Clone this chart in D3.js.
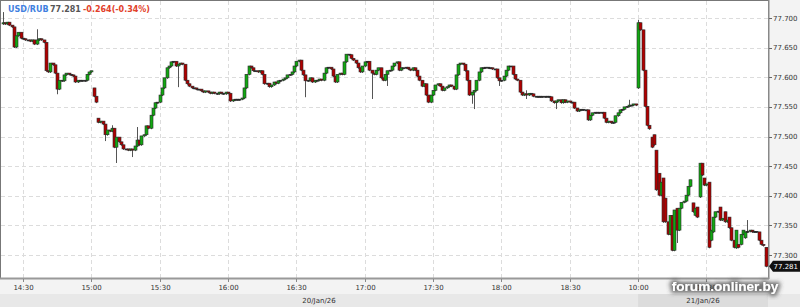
<!DOCTYPE html>
<html>
<head>
<meta charset="utf-8">
<script src="https://cdn.jsdelivr.net/npm/d3@7"></script>
<style>
  body { margin: 0; background: #fff; }
  svg { display: block; font-family: "DejaVu Sans", sans-serif; }
</style>
</head>
<body>
<svg id="chart" width="800" height="307"></svg>
<script>
// quote header
const symbol = "USD/RUB";
const lastPrice = 77.281;
const changeText = "-0.264(-0.34%)";

// 1 minute candles, 20/Jan afternoon session
const session1Start = "14:21";
const session1Close = [
  77.692, 77.690, 77.693, 77.688, 77.685, 77.651, 77.670, 77.676, 77.666, 77.665,
  77.663, 77.663, 77.661, 77.663, 77.656, 77.663, 77.665, 77.663, 77.659, 77.611,
  77.609, 77.624, 77.621, 77.607, 77.580, 77.595, 77.594, 77.604, 77.607, 77.605,
  77.604, 77.602, 77.592, 77.595, 77.595, 77.594, 77.595, 77.605, 77.609, 77.611,
  77.568, 77.558, 77.524, 77.526, 77.521, 77.503, 77.511, 77.509, 77.514, 77.482,
  77.499, 77.491, 77.486, 77.479, 77.479, 77.477, 77.479, 77.477, 77.484, 77.494,
  77.486, 77.501, 77.503, 77.518, 77.514, 77.536, 77.548, 77.557, 77.558, 77.570,
  77.582, 77.599, 77.616, 77.619, 77.626, 77.627, 77.619, 77.622, 77.624, 77.622,
  77.595, 77.589, 77.585, 77.582, 77.582, 77.580, 77.580, 77.577, 77.575, 77.577,
  77.575, 77.573, 77.575, 77.573, 77.572, 77.575, 77.573, 77.572, 77.575, 77.573,
  77.560, 77.562, 77.563, 77.562, 77.563, 77.565, 77.582, 77.605, 77.619, 77.616,
  77.611, 77.611, 77.609, 77.611, 77.605, 77.589, 77.590, 77.584, 77.587, 77.592,
  77.590, 77.594, 77.595, 77.597, 77.599, 77.604, 77.605, 77.609, 77.619, 77.627,
  77.629, 77.612, 77.604, 77.594, 77.595, 77.599, 77.592, 77.595, 77.595, 77.597,
  77.595, 77.607, 77.616, 77.617, 77.614, 77.602, 77.592, 77.605, 77.607, 77.605,
  77.626, 77.639, 77.638, 77.632, 77.629, 77.624, 77.616, 77.609, 77.619, 77.626,
  77.627, 77.612, 77.607, 77.605, 77.612, 77.616, 77.599, 77.595, 77.605, 77.611,
  77.612, 77.619, 77.624, 77.626, 77.612, 77.616, 77.616, 77.617, 77.614, 77.612,
  77.616, 77.612, 77.602, 77.595, 77.585, 77.589, 77.570, 77.558, 77.570, 77.578,
  77.587, 77.589, 77.585, 77.578, 77.582, 77.584, 77.587, 77.585, 77.580, 77.604,
  77.622, 77.624, 77.622, 77.611, 77.595, 77.570, 77.575, 77.578, 77.595, 77.609,
  77.616, 77.616, 77.617, 77.616, 77.616, 77.614, 77.614, 77.599, 77.594, 77.595,
  77.602, 77.612, 77.619, 77.619, 77.605, 77.597, 77.595, 77.575, 77.570, 77.572,
  77.570, 77.573, 77.572, 77.568, 77.568, 77.567, 77.568, 77.567, 77.568, 77.568,
  77.567, 77.560, 77.557, 77.560, 77.562, 77.557, 77.562, 77.558, 77.560, 77.558,
  77.558, 77.548, 77.543, 77.545, 77.546, 77.545, 77.545, 77.528, 77.536, 77.540,
  77.541, 77.541, 77.540, 77.541, 77.531, 77.524, 77.526, 77.523, 77.524, 77.535,
  77.540, 77.545, 77.546, 77.550, 77.551, 77.553, 77.553, 77.555, 77.553
];

// 21/Jan morning session
const session2Start = "10:00";
const session2Close = [
  77.692, 77.680, 77.612, 77.551, 77.519, 77.513, 77.482, 77.486, 77.410, 77.401,
  77.423, 77.356, 77.356, 77.335, 77.367, 77.308, 77.376, 77.342, 77.379, 77.389,
  77.391, 77.401, 77.416, 77.427, 77.373, 77.379, 77.364, 77.455, 77.435, 77.418,
  77.420, 77.313, 77.342, 77.364, 77.373, 77.374, 77.359, 77.362, 77.356, 77.359,
  77.346, 77.325, 77.313, 77.342, 77.313, 77.335, 77.342, 77.339, 77.340, 77.342,
  77.339, 77.340, 77.339, 77.325, 77.318, 77.316, 77.281
];

// candles whose open is not the previous close (candle number, open)
const openAt  = [0, 40, 42, 279, 285, 286, 287, 288, 290, 291, 296, 303, 304, 305, 306, 307, 308, 310, 311, 312, 315, 317, 319, 322, 323, 324, 326, 335];
const openVal = [77.690, 77.582, 77.531, 77.582, 77.499, 77.503, 77.477, 77.438, 77.430, 77.396, 77.379, 77.388, 77.367, 77.381, 77.398, 77.455, 77.430, 77.423, 77.325, 77.339, 77.381, 77.373, 77.364, 77.312, 77.318, 77.318, 77.329, 77.313];

// longer shadows (candle number, high, low)
const wickAt   = [0, 15, 24, 45, 48, 50, 57, 59, 77, 133, 162, 169, 206, 207, 218, 230, 243, 275, 279, 296, 327];
const wickHigh = [77.710, 77.681, null, null, 77.519, null, null, 77.516, null, null, null, null, null, null, null, 77.578, null, 77.562, 77.697, null, 77.359];
const wickLow  = [null, null, 77.573, 77.494, null, 77.457, 77.467, null, 77.585, 77.568, 77.565, 77.587, 77.557, 77.548, 77.587, 77.565, 77.548, null, null, 77.322, null];

const timeTicks = ["14:30", "15:00", "15:30", "16:00", "16:30", "17:00", "17:30", "18:00", "18:30", "10:00", "10:30"];
const priceTicks = [77.300, 77.350, 77.400, 77.450, 77.500, 77.550, 77.600, 77.650, 77.700];
const dayLabels = ["20/Jan/26", "21/Jan/26"];
const watermark = "forum.onliner.by";

// ---------------------------------------------------------------
const svg = d3.select("#chart");
const W = 800, H = 307;
const plotR = 768, plotB = 278;

function minuteLabels(start, n) {
  const [h, m] = start.split(":").map(Number);
  return d3.range(n).map(k => {
    const t = h * 60 + m + k;
    return String(Math.floor(t / 60)).padStart(2, "0") + ":" + String(t % 60).padStart(2, "0");
  });
}
const times = minuteLabels(session1Start, session1Close.length)
  .concat(minuteLabels(session2Start, session2Close.length));
const closes = session1Close.concat(session2Close);

const openMap = new Map(openAt.map((k, j) => [k, openVal[j]]));
const wickMap = new Map(wickAt.map((k, j) => [k, [wickHigh[j], wickLow[j]]]));

const candles = closes.map((c, i) => {
  const o = openMap.has(i) ? openMap.get(i) : closes[i - 1];
  const w = wickMap.get(i) || [null, null];
  return {
    t: times[i], o: o, c: c,
    h: Math.max(o, c, w[0] ?? -Infinity),
    l: Math.min(o, c, w[1] ?? Infinity)
  };
});

const x = d3.scalePoint().domain(times).range([2.5, 765.6]);
const y = d3.scaleLinear().domain([77.2612, 77.7287]).range([plotB, 1]);

// backgrounds
svg.append("rect").attr("width", W).attr("height", H).attr("fill", "#f3f3f3");
svg.append("rect").attr("x", 0).attr("y", 294).attr("width", W).attr("height", 13).attr("fill", "#e8e8e8");
svg.append("rect").attr("x", x("10:00")).attr("y", 294).attr("width", plotR - x("10:00")).attr("height", 13).attr("fill", "#dcdcdc");
svg.append("rect").attr("x", 1).attr("y", 1).attr("width", plotR - 1).attr("height", plotB - 1).attr("fill", "#fff");

// grid
const grid = svg.append("g").attr("stroke", "#dcdcdc").attr("stroke-dasharray", "4,3");
grid.selectAll("line.h").data(priceTicks).join("line")
  .attr("x1", 1).attr("x2", plotR)
  .attr("y1", d => Math.round(y(d)) + 0.5).attr("y2", d => Math.round(y(d)) + 0.5);
grid.selectAll("line.v").data(timeTicks).join("line")
  .attr("y1", 1).attr("y2", plotB)
  .attr("x1", d => Math.round(x(d)) + 0.5).attr("x2", d => Math.round(x(d)) + 0.5);

// candles: shadow line, then body
const cg = svg.append("g");
cg.selectAll("line").data(candles).join("line")
  .attr("x1", d => Math.round(x(d.t)) + 0.5).attr("x2", d => Math.round(x(d.t)) + 0.5)
  .attr("y1", d => y(d.h)).attr("y2", d => y(d.l) + 1)
  .attr("stroke", "#555").attr("stroke-width", 1);
cg.selectAll("rect").data(candles).join("rect")
  .attr("x", d => Math.round(x(d.t)) - 1)
  .attr("width", 3)
  .attr("y", d => y(Math.max(d.o, d.c)))
  .attr("height", d => Math.max(1, Math.abs(y(d.o) - y(d.c))))
  .attr("fill", d => Math.abs(d.o - d.c) < 0.0015 ? "#222" : (d.c > d.o ? "#12a812" : "#b00000"))
  .attr("stroke", "#2a2a2a").attr("stroke-width", 0.6);

// borders and axis lines
svg.append("rect").attr("x", 0).attr("y", 0).attr("width", 1).attr("height", plotB).attr("fill", "#777");
svg.append("rect").attr("x", 0).attr("y", 0).attr("width", plotR).attr("height", 1).attr("fill", "#777");
svg.append("rect").attr("x", plotR).attr("y", 0).attr("width", 1.5).attr("height", plotB + 1).attr("fill", "#888");
svg.append("rect").attr("x", 0).attr("y", plotB - 0.5).attr("width", plotR + 1).attr("height", 2).attr("fill", "#999");

// x axis labels
const xa = svg.append("g").attr("font-size", 7).attr("fill", "#333").attr("text-anchor", "middle");
xa.selectAll("line").data(timeTicks).join("line")
  .attr("x1", d => Math.round(x(d)) + 0.5).attr("x2", d => Math.round(x(d)) + 0.5)
  .attr("y1", plotB + 1).attr("y2", plotB + 4).attr("stroke", "#888");
xa.selectAll("text").data(timeTicks).join("text")
  .attr("x", d => Math.round(x(d)) + 0.5).attr("y", 289.5).text(d => d);

// day band labels
const dayStart = [0, x("10:00")];
const dayEnd = [x("10:00"), plotR];
svg.append("g").attr("font-size", 7).attr("fill", "#333").attr("text-anchor", "middle")
  .selectAll("text").data(dayLabels).join("text")
  .attr("x", (d, i) => (dayStart[i] + dayEnd[i]) / 2)
  .attr("y", 303).text(d => d);

// y axis labels
const ya = svg.append("g").attr("font-size", 7).attr("fill", "#333");
ya.selectAll("line").data(priceTicks).join("line")
  .attr("x1", plotR + 1).attr("x2", plotR + 4)
  .attr("y1", d => Math.round(y(d)) + 0.5).attr("y2", d => Math.round(y(d)) + 0.5)
  .attr("stroke", "#666");
ya.selectAll("text").data(priceTicks).join("text")
  .attr("x", plotR + 5).attr("y", d => y(d) + 2.6)
  .text(d => d.toFixed(3));

// last price tag
const ly = y(lastPrice);
svg.append("path")
  .attr("d", `M${plotR + 1},${ly} L${plotR + 5},${ly - 5.5} L${W},${ly - 5.5} L${W},${ly + 5.5} L${plotR + 5},${ly + 5.5} Z`)
  .attr("fill", "#111");
svg.append("text").attr("x", plotR + 5.5).attr("y", ly + 2.6)
  .attr("font-size", 7).attr("fill", "#fff").text(lastPrice.toFixed(3));

// header
const head = svg.append("g").attr("font-size", 8).attr("font-weight", "bold");
head.append("text").attr("x", 8).attr("y", 11.5).attr("fill", "#3f7fe0").text(symbol);
head.append("text").attr("x", 50).attr("y", 11.5).attr("fill", "#555").text(lastPrice.toFixed(3));
head.append("text").attr("x", 83).attr("y", 11.5).attr("fill", "#e2412a").text(changeText);

// watermark over the 10:30 tick label, as in the source
const defs = svg.append("defs");
const f = defs.append("filter").attr("id", "halo").attr("x", "-10%").attr("y", "-40%").attr("width", "120%").attr("height", "180%");
f.append("feMorphology").attr("in", "SourceAlpha").attr("operator", "dilate").attr("radius", 2).attr("result", "d");
f.append("feGaussianBlur").attr("in", "d").attr("stdDeviation", 2).attr("result", "b");
f.append("feFlood").attr("flood-color", "#444").attr("flood-opacity", 0.75).attr("result", "c");
f.append("feComposite").attr("in", "c").attr("in2", "b").attr("operator", "in").attr("result", "s");
const m = f.append("feMerge");
m.append("feMergeNode").attr("in", "s");
m.append("feMergeNode").attr("in", "SourceGraphic");
svg.append("text").attr("x", 725).attr("y", 290.5).attr("text-anchor", "middle")
  .attr("font-family", "Liberation Sans, Arial, sans-serif").attr("font-weight", "bold")
  .attr("font-size", 13.6).attr("fill", "#fff").attr("filter", "url(#halo)")
  .text(watermark);
</script>
</body>
</html>
